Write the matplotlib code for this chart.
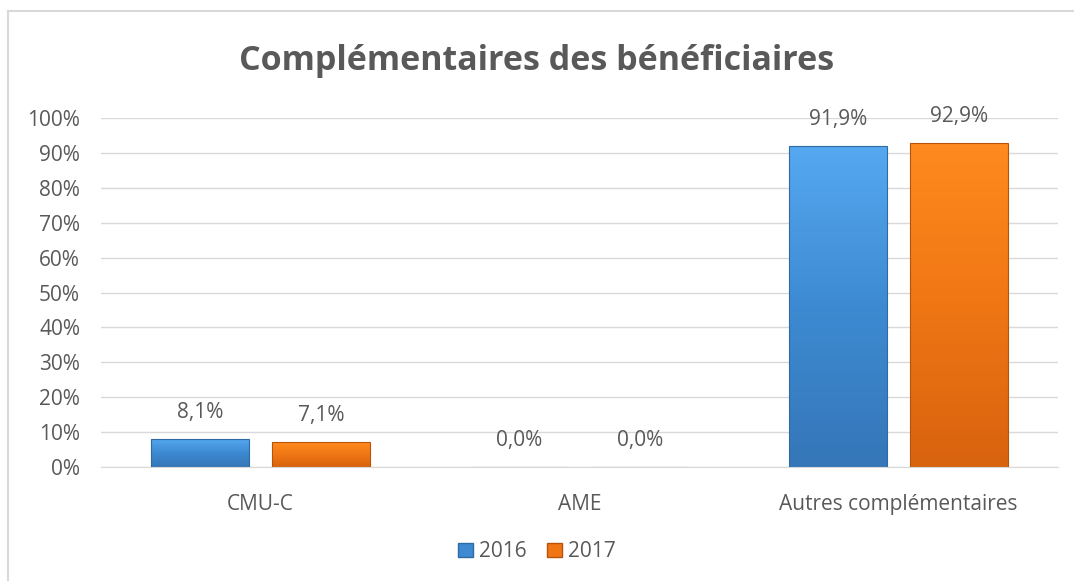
import numpy as np
import matplotlib
matplotlib.use("Agg")
import matplotlib.pyplot as plt
from matplotlib.patches import Patch
from matplotlib.colors import LinearSegmentedColormap
from matplotlib.lines import Line2D

plt.rcParams['font.family'] = ['Open Sans', 'DejaVu Sans']

categories = ["CMU-C", "AME", "Autres complémentaires"]
years = ["2016", "2017"]
values_2016 = [8.1, 0.0, 91.9]
values_2017 = [7.1, 0.0, 92.9]
yticks = list(range(0, 101, 10))

text_col = "#595959"
grid_col = "#d9d9d9"
grads = {
    "2016": ("#55a8f0", "#3d8ad2", "#3577b8"),
    "2017": ("#ff8a1e", "#f07614", "#d8630f"),
}
edges = {"2016": "#2f6aa3", "2017": "#b8530c"}
fs = 15

fig = plt.figure(figsize=(10.74, 5.81), dpi=100)
ax = fig.add_axes([0.094, 0.196, 0.891, 0.601])

x = np.arange(len(categories))
width = 0.307
offset = 0.19

for vals, yr, sign in [(values_2016, "2016", -1), (values_2017, "2017", 1)]:
    cmap = LinearSegmentedColormap.from_list(yr, list(grads[yr]))
    bars = ax.bar(x + sign * offset, vals, width, color="none",
                  edgecolor=edges[yr], linewidth=0.8, zorder=3)
    for b, v in zip(bars, vals):
        if v > 0:
            x0, w, h = b.get_x(), b.get_width(), b.get_height()
            grad = np.linspace(0, 1, 64).reshape(-1, 1)
            im = ax.imshow(grad, cmap=cmap, aspect="auto", origin="upper",
                           extent=[x0, x0 + w, 0, h], zorder=2)
            im.set_clip_path(b)
        ax.annotate(f"{v:.1f}%".replace(".", ","), (b.get_x() + b.get_width() / 2, v),
                    xytext=(0, 19), textcoords="offset points", ha="center",
                    va="center", fontsize=fs, color=text_col)

ax.set_xlim(-0.5, 2.5)
ax.set_ylim(0, 100)
ax.set_yticks(yticks)
ax.set_yticklabels([f"{t}%" for t in yticks])
ax.set_xticks(x)
ax.set_xticklabels(categories)
ax.tick_params(axis="y", length=0, pad=15, labelsize=fs, labelcolor=text_col)
ax.tick_params(axis="x", length=0, pad=19, labelsize=fs, labelcolor=text_col)
ax.grid(axis="y", color=grid_col, linewidth=1, zorder=0)
ax.set_axisbelow(True)
for s in ["top", "right", "left"]:
    ax.spines[s].set_visible(False)
ax.spines["bottom"].set_color(grid_col)

fig.text(0.5, 0.895, "Complémentaires des bénéficiaires", ha="center", va="center",
         fontsize=24.5, fontweight="bold", color=text_col)

handles = [Patch(facecolor=grads[y][1], edgecolor=edges[y], label=y) for y in years]
fig.legend(handles=handles, loc="center", bbox_to_anchor=(0.5, 0.05), ncol=2,
           frameon=False, fontsize=fs, labelcolor=text_col, handlelength=0.7,
           handleheight=0.7, handletextpad=0.3, columnspacing=1.0)

# chart border (left and top visible)
fig.add_artist(Line2D([8 / 1074, 8 / 1074], [0, 1 - 11 / 581], transform=fig.transFigure,
                      color="#d9d9d9", linewidth=1.5))
fig.add_artist(Line2D([8 / 1074, 1], [1 - 11 / 581, 1 - 11 / 581], transform=fig.transFigure,
                      color="#d9d9d9", linewidth=1.5))

fig.savefig("out.png", dpi=100)
